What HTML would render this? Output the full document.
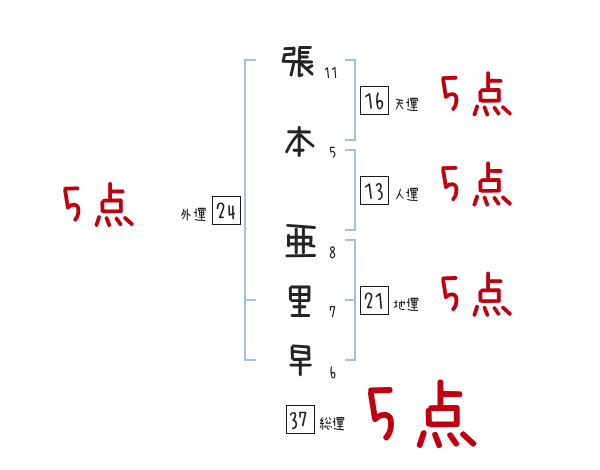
<!DOCTYPE html>
<html><head><meta charset="utf-8"><style>
html,body{margin:0;padding:0;background:#fff;}
body{width:600px;height:470px;overflow:hidden;font-family:"Liberation Sans",sans-serif;}
svg{display:block;}
</style></head><body>
<svg width="600" height="470" viewBox="0 0 600 470">
<rect width="600" height="470" fill="#fff"/>
<rect x="244" y="59" width="2" height="302" fill="#a2c1db"/>
<rect x="244" y="59" width="12" height="2" fill="#a2c1db"/>
<rect x="244" y="299" width="12" height="2" fill="#a2c1db"/>
<rect x="244" y="359" width="12" height="2" fill="#a2c1db"/>
<rect x="354" y="59" width="2" height="82" fill="#a2c1db"/>
<rect x="345" y="59" width="11" height="2" fill="#a2c1db"/>
<rect x="345" y="139" width="11" height="2" fill="#a2c1db"/>
<rect x="354" y="149" width="2" height="82" fill="#a2c1db"/>
<rect x="345" y="149" width="11" height="2" fill="#a2c1db"/>
<rect x="345" y="229" width="11" height="2" fill="#a2c1db"/>
<rect x="354" y="239" width="2" height="122" fill="#a2c1db"/>
<rect x="345" y="239" width="11" height="2" fill="#a2c1db"/>
<rect x="345" y="359" width="11" height="2" fill="#a2c1db"/>
<rect x="345" y="299" width="10" height="2" fill="#a2c1db"/>
<path d="M284.93 48.65 L294 48.3 L293.8 54 L284.6 54.7 L283.2 61.2 L311.67 61.96 M293.6 63.89 L291.1 74.91 M299.93 47.4 L310.27 47.4 M299.58 48.93 L299.2 75.8 L301.95 74.84 M301.63 52.4 L307.97 52.4 M301.63 57 L307.27 57 M301.57 64.3 C305 67.5 309.5 71.5 312.03 73.89 M311.83 65.83 L307.17 68.37" fill="none" stroke="#232323" stroke-width="2.95" stroke-linecap="round" stroke-linejoin="round"/>
<path d="M288.73 131.72 L309.57 132.08 M299.2 127.53 L299.2 155.47 M297.83 135.01 Q292 140.5 286.67 151.6 M300.54 135.04 Q306.5 141 313.04 145.9 M294.03 150.3 L303.07 150.3" fill="none" stroke="#232323" stroke-width="2.95" stroke-linecap="round" stroke-linejoin="round"/>
<path d="M287.72 225.4 L314.48 227.5 M288.5 235.53 L288.5 245.67 M289.83 237.2 L311.1 237.2 L310.6 245.6 L313.99 246.1 M290.13 244 L309.17 244 M296.2 229.13 L296.2 252.67 M303.4 229.13 L303.4 252.67 M286.93 255.88 L314.47 255.52" fill="none" stroke="#232323" stroke-width="2.95" stroke-linecap="round" stroke-linejoin="round"/>
<path d="M290.32 288.33 L290.48 299.27 M291.63 287 L309 287 L308.8 300.6 L291.83 300.6 M291.73 294.5 L307.57 294.5 M299.7 288.33 L299.7 314.07 M293.93 306.7 L304.87 306.7 M292.13 315.4 L308.67 315.4" fill="none" stroke="#232323" stroke-width="2.95" stroke-linecap="round" stroke-linejoin="round"/>
<path d="M292.05 347.33 L292.45 358.17 M293.32 345.9 L308.5 347 L309 359 L293.83 359.46 M293.52 351.36 L307.38 353.04 M290.93 365.1 L310.27 365.1 M300.3 360.83 L300.3 374.87" fill="none" stroke="#232323" stroke-width="2.95" stroke-linecap="round" stroke-linejoin="round"/>
<path d="M365.78 96.33 L369.5 94 L371.06 107.87 M377.99 93.11 C376.6 97 376.8 101 377.2 104 C377.6 107 378.2 108.7 379.3 108.7 C381.2 108.7 382.4 106 382.4 104 C382.4 101.8 381.3 100.8 380.2 100.8 C378.8 100.8 377.6 102 377.44 103.27 M365.77 186.8 L369.3 184.2 L371.06 198.17 M376.61 185.49 C377 184.4 378 183.7 378.8 183.7 C380.2 183.7 381 184.8 381 186.5 C381 188.5 380 190 378.6 190.8 C380.4 191.2 382 192.8 382 195.2 C382 197.6 380.4 199.2 378.73 199.2 M217.51 208.37 C217.6 206 218.6 203.4 220.5 203.3 C222.5 203.2 223.6 204.6 223.6 206.5 C223.6 208.8 221.6 213 219.6 217.3 L223.07 217.3 M229.01 205.93 L229.4 215 L234.28 213.5 M232.71 206.43 L233.19 218.37 M365.51 298.57 C365.6 296 366.6 293.4 368.5 293.3 C370.5 293.2 371.6 294.6 371.6 296.5 C371.6 298.8 369.6 303 367.6 307.3 L371.27 307.3 M376.27 296.31 L380 293.7 L381.17 308.17 M290.59 414.78 C291 413.4 292 412.7 293.5 412.7 C295 412.7 295.6 414 295.4 415.6 C295.2 417.8 294.2 419.4 293.1 420 C295.2 420.6 296.4 422.4 296.3 424.4 C296.2 426.6 294.6 428.2 292.73 428.37 M299.91 412.63 L300.09 416.87 M300.23 412.5 L305.6 412.5 L302.77 425.48" fill="none" stroke="#232323" stroke-width="1.65" stroke-linecap="round" stroke-linejoin="round"/>
<path d="M325.48 69.54 L327.4 67.8 L328.47 77.36 M332.3 69.27 L334.9 67.5 L335.58 77.36 M330.54 147.4 L334.16 147.4 M330.33 147.74 L330.8 151.9 C331.8 151.3 333.3 151.3 334.3 152.3 C335.3 153.5 335 155.8 333.29 157.06 M332.6 246.8 C331 246.8 330.4 248 330.6 249.4 C330.9 250.9 333 251.6 333.9 252.8 C335 254.2 335 256.6 333.2 257.6 C331.4 258.4 330.2 256.6 330.4 255 C330.7 253.2 332.6 252 333.8 250.4 C334.7 249 334.3 246.8 332.6 246.8 Z M330.22 306.84 L330.48 310.16 M330.44 306.6 L334.7 306.6 L332.45 316.77 M331.54 366.83 C331 369 330.9 372 331.4 375 C331.8 377.2 332.6 378 333.3 378 C334.4 378 334.9 376.5 334.8 374.8 C334.7 373.2 334 372.4 333.2 372.4 C332.5 372.4 331.9 373 331.76 373.57" fill="none" stroke="#232323" stroke-width="1.2" stroke-linecap="round" stroke-linejoin="round"/>
<rect x="360.5" y="86.5" width="28" height="28" fill="none" stroke="#1a1a1a" stroke-width="1"/>
<rect x="360.5" y="176.5" width="28" height="28" fill="none" stroke="#1a1a1a" stroke-width="1"/>
<rect x="360.5" y="286.5" width="28" height="28" fill="none" stroke="#1a1a1a" stroke-width="1"/>
<rect x="212.5" y="196.5" width="28" height="28" fill="none" stroke="#1a1a1a" stroke-width="1"/>
<rect x="286.5" y="405.5" width="28" height="28" fill="none" stroke="#1a1a1a" stroke-width="1"/>
<g transform="translate(395.4,98.8)"><path d="M0.77 0.4 L7.13 1.8 M1.79 4.3 L7.41 4.3 M4.02 1.88 Q3.2 6.5 0.86 10.19 M4.53 6.03 Q5.8 8.4 7.53 9.88" fill="none" stroke="#232323" stroke-width="1.08" stroke-linecap="round" stroke-linejoin="round"/></g>
<g transform="translate(406,98)"><path d="M2.3 0.79 L2.3 8.51 M0.69 4.4 L2.71 4.4 M1.75 11.39 Q4.5 12.6 11.11 12.41 M4.7 2.51 L4.7 0.4 L11.4 0.4 L11.4 2.51 M5.7 2 L9.9 2 L9.9 7 L5.7 7 Z M6.19 4.5 L9.41 4.5 M7.8 1.69 L7.8 11.31 M5.19 9.3 L10.71 9.3" fill="none" stroke="#232323" stroke-width="1.08" stroke-linecap="round" stroke-linejoin="round"/></g>
<g transform="translate(396,188.5)"><path d="M4.41 0.78 Q3.4 6 0.57 10.29 M3.08 4.8 Q5 7.6 6.96 9.56" fill="none" stroke="#232323" stroke-width="1.08" stroke-linecap="round" stroke-linejoin="round"/></g>
<g transform="translate(406,188)"><path d="M2.3 0.79 L2.3 8.51 M0.69 4.4 L2.71 4.4 M1.75 11.39 Q4.5 12.6 11.11 12.41 M4.7 2.51 L4.7 0.4 L11.4 0.4 L11.4 2.51 M5.7 2 L9.9 2 L9.9 7 L5.7 7 Z M6.19 4.5 L9.41 4.5 M7.8 1.69 L7.8 11.31 M5.19 9.3 L10.71 9.3" fill="none" stroke="#232323" stroke-width="1.08" stroke-linecap="round" stroke-linejoin="round"/></g>
<g transform="translate(393.7,299.7)"><path d="M0.69 2.8 L3.31 2.8 M2.3 0.79 L2.3 7.01 M0.65 7.61 L3.35 6.49 M5.88 2.94 L10.8 2.3 L10.47 4.52 M7.8 1.29 L7.8 6.71 M6 3.09 L6 8.6 Q8 10.2 10.52 9.86" fill="none" stroke="#232323" stroke-width="1.08" stroke-linecap="round" stroke-linejoin="round"/></g>
<g transform="translate(406.4,298)"><path d="M2.3 0.79 L2.3 8.51 M0.69 4.4 L2.71 4.4 M1.75 11.39 Q4.5 12.6 11.11 12.41 M4.7 2.51 L4.7 0.4 L11.4 0.4 L11.4 2.51 M5.7 2 L9.9 2 L9.9 7 L5.7 7 Z M6.19 4.5 L9.41 4.5 M7.8 1.69 L7.8 11.31 M5.19 9.3 L10.71 9.3" fill="none" stroke="#232323" stroke-width="1.08" stroke-linecap="round" stroke-linejoin="round"/></g>
<g transform="translate(181.3,208.5)"><path d="M2.5 0.78 Q1.8 4 0.5 6.96 M2.84 2.5 L4.4 3.2 Q3.8 7.8 1.53 10.24 M1.58 4.9 L2.62 5.7 M6 0.59 L6 11.51 M6.69 5.49 L8.91 7.11" fill="none" stroke="#232323" stroke-width="1.08" stroke-linecap="round" stroke-linejoin="round"/></g>
<g transform="translate(193.8,208)"><path d="M2.3 0.79 L2.3 8.51 M0.69 4.4 L2.71 4.4 M1.75 11.39 Q4.5 12.6 11.11 12.41 M4.7 2.51 L4.7 0.4 L11.4 0.4 L11.4 2.51 M5.7 2 L9.9 2 L9.9 7 L5.7 7 Z M6.19 4.5 L9.41 4.5 M7.8 1.69 L7.8 11.31 M5.19 9.3 L10.71 9.3" fill="none" stroke="#232323" stroke-width="1.08" stroke-linecap="round" stroke-linejoin="round"/></g>
<g transform="translate(320,417.1)"><path d="M2.2 0.64 Q1.4 2.4 0.4 3.4 L2.74 4.24 M2.98 2.63 Q1.8 5 0.3 6.6 L3.72 6.25 M2.3 6.89 L2.3 12.11 M0.52 8.98 L0.28 10.32 M3.79 9.05 L4.11 9.75 M6.57 0.83 L5.63 2.57 M9.31 0.68 L10.89 2.62 M7.39 3.64 L6.2 6.2 L9.92 5.85 M9.65 5.02 L10.35 6.18 M5.54 8.68 L5.36 10.12 M7 8.79 Q7 12.2 9.12 11.87 M8.94 8.94 L9.34 9.34 M10.94 9.07 L11.26 10.13" fill="none" stroke="#232323" stroke-width="1.08" stroke-linecap="round" stroke-linejoin="round"/></g>
<g transform="translate(332.3,417.2)"><path d="M2.3 0.79 L2.3 8.51 M0.69 4.4 L2.71 4.4 M1.75 11.39 Q4.5 12.6 11.11 12.41 M4.7 2.51 L4.7 0.4 L11.4 0.4 L11.4 2.51 M5.7 2 L9.9 2 L9.9 7 L5.7 7 Z M6.19 4.5 L9.41 4.5 M7.8 1.69 L7.8 11.31 M5.19 9.3 L10.71 9.3" fill="none" stroke="#232323" stroke-width="1.08" stroke-linecap="round" stroke-linejoin="round"/></g>
<g transform="translate(440,70) scale(1)"><path transform="translate(0,0)" d="M3.33 8.06 L15.47 7.74 M3.18 10.01 L5.9 26.9 C8 24.9 10.5 23.9 13 24.2 C15.8 24.7 16.6 27.6 16.4 30.9 C16.2 34.6 14.6 37.6 13.28 38.92" fill="none" stroke="#c0000f" stroke-width="3.85" stroke-linecap="round" stroke-linejoin="round"/><path d="M48.1 3.23 L48.1 17.07 M50.33 10.77 L60.57 10.88 M40.34 21.93 L40.56 30.27 M42.03 20.08 L58.8 19.9 L58.9 30.6 L42.33 30.78 M37.07 36.55 L34.53 44.35 M44.63 37.61 L47.27 44.39 M54.58 37.93 L58.42 43.47 M63.08 37.37 L69.72 43.43" fill="none" stroke="#c0000f" stroke-width="3.85" stroke-linecap="round" stroke-linejoin="round"/></g>
<g transform="translate(440,160.1) scale(1)"><path transform="translate(0,0)" d="M3.33 8.06 L15.47 7.74 M3.18 10.01 L5.9 26.9 C8 24.9 10.5 23.9 13 24.2 C15.8 24.7 16.6 27.6 16.4 30.9 C16.2 34.6 14.6 37.6 13.28 38.92" fill="none" stroke="#c0000f" stroke-width="3.85" stroke-linecap="round" stroke-linejoin="round"/><path d="M48.1 3.23 L48.1 17.07 M50.33 10.77 L60.57 10.88 M40.34 21.93 L40.56 30.27 M42.03 20.08 L58.8 19.9 L58.9 30.6 L42.33 30.78 M37.07 36.55 L34.53 44.35 M44.63 37.61 L47.27 44.39 M54.58 37.93 L58.42 43.47 M63.08 37.37 L69.72 43.43" fill="none" stroke="#c0000f" stroke-width="3.85" stroke-linecap="round" stroke-linejoin="round"/></g>
<g transform="translate(440,270.3) scale(1)"><path transform="translate(0,0)" d="M3.33 8.06 L15.47 7.74 M3.18 10.01 L5.9 26.9 C8 24.9 10.5 23.9 13 24.2 C15.8 24.7 16.6 27.6 16.4 30.9 C16.2 34.6 14.6 37.6 13.28 38.92" fill="none" stroke="#c0000f" stroke-width="3.85" stroke-linecap="round" stroke-linejoin="round"/><path d="M48.1 3.23 L48.1 17.07 M50.33 10.77 L60.57 10.88 M40.34 21.93 L40.56 30.27 M42.03 20.08 L58.8 19.9 L58.9 30.6 L42.33 30.78 M37.07 36.55 L34.53 44.35 M44.63 37.61 L47.27 44.39 M54.58 37.93 L58.42 43.47 M63.08 37.37 L69.72 43.43" fill="none" stroke="#c0000f" stroke-width="3.85" stroke-linecap="round" stroke-linejoin="round"/></g>
<g transform="translate(62,180.6) scale(1)"><path transform="translate(0,0)" d="M3.33 8.06 L15.47 7.74 M3.18 10.01 L5.9 26.9 C8 24.9 10.5 23.9 13 24.2 C15.8 24.7 16.6 27.6 16.4 30.9 C16.2 34.6 14.6 37.6 13.28 38.92" fill="none" stroke="#c0000f" stroke-width="3.85" stroke-linecap="round" stroke-linejoin="round"/><path d="M48.1 3.23 L48.1 17.07 M50.33 10.77 L60.57 10.88 M40.34 21.93 L40.56 30.27 M42.03 20.08 L58.8 19.9 L58.9 30.6 L42.33 30.78 M37.07 36.55 L34.53 44.35 M44.63 37.61 L47.27 44.39 M54.58 37.93 L58.42 43.47 M63.08 37.37 L69.72 43.43" fill="none" stroke="#c0000f" stroke-width="3.85" stroke-linecap="round" stroke-linejoin="round"/></g>
<g transform="translate(367.3,377.6) scale(1.52)"><path transform="translate(-0.8,0.4)" d="M3.33 8.06 L15.47 7.74 M3.18 10.01 L5.9 26.9 C8 24.9 10.5 23.9 13 24.2 C15.8 24.7 16.6 27.6 16.4 30.9 C16.2 34.6 14.6 37.6 13.28 38.92" fill="none" stroke="#c0000f" stroke-width="3.85" stroke-linecap="round" stroke-linejoin="round"/><path d="M48.1 3.23 L48.1 17.07 M50.33 10.77 L60.57 10.88 M40.34 21.93 L40.56 30.27 M42.03 20.08 L58.8 19.9 L58.9 30.6 L42.33 30.78 M37.07 36.55 L34.53 44.35 M44.63 37.61 L47.27 44.39 M54.58 37.93 L58.42 43.47 M63.08 37.37 L69.72 43.43" fill="none" stroke="#c0000f" stroke-width="3.85" stroke-linecap="round" stroke-linejoin="round"/></g>
</svg>
</body></html>
